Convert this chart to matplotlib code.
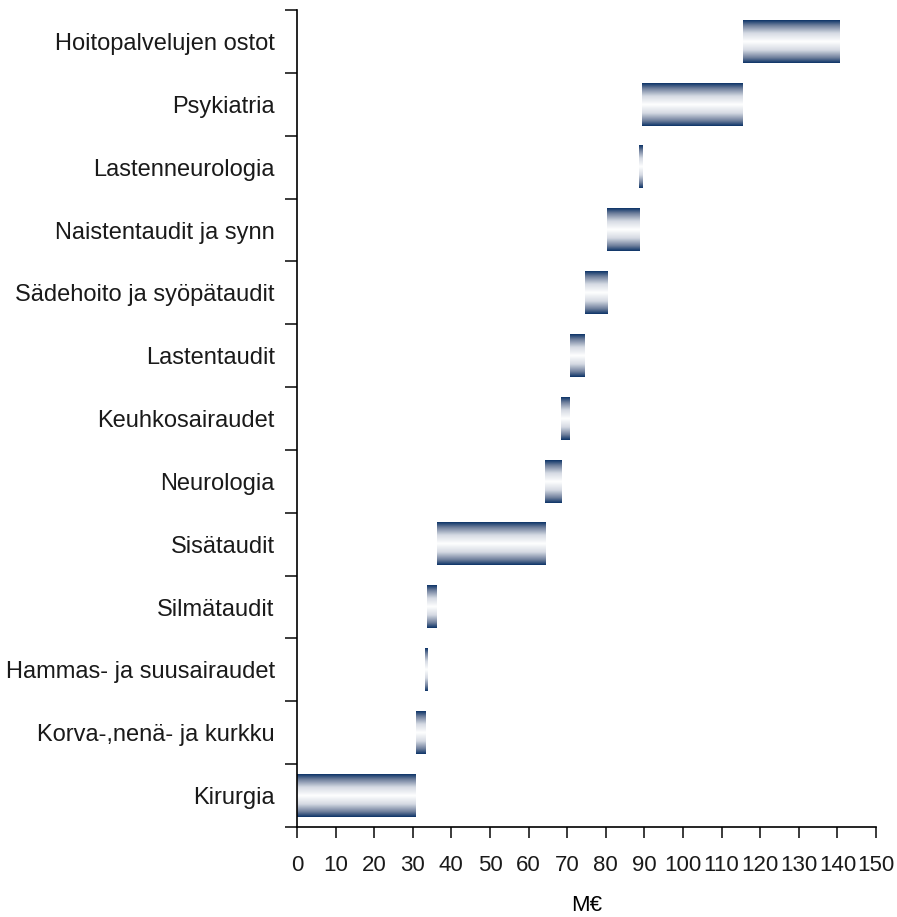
import numpy as np
import matplotlib
matplotlib.use("Agg")
import matplotlib.pyplot as plt
from matplotlib.colors import LinearSegmentedColormap

# Waterfall data (M€), bottom to top
categories = ["Kirurgia", "Korva-,nenä- ja kurkku", "Hammas- ja suusairaudet",
              "Silmätaudit", "Sisätaudit", "Neurologia", "Keuhkosairaudet",
              "Lastentaudit", "Sädehoito ja syöpätaudit", "Naistentaudit ja synn",
              "Lastenneurologia", "Psykiatria", "Hoitopalvelujen ostot"]
values = [30.8, 2.4, 0.6, 2.4, 28.0, 4.3, 2.3, 3.8, 5.7, 8.4, 0.8, 26.0, 25.0]
x_ticks = list(range(0, 151, 10))

plt.rcParams['font.family'] = ['Liberation Sans Narrow', 'Liberation Sans', 'DejaVu Sans']
plt.rcParams['text.color'] = '#1a1a1a'
plt.rcParams['xtick.color'] = '#1a1a1a'
plt.rcParams['ytick.color'] = '#1a1a1a'

fig = plt.figure(figsize=(8.97, 9.17), dpi=100)
ax = fig.add_axes([0.331, 0.0982, 0.9766 - 0.331, 0.989 - 0.0982])

navy = "#0d3468"
# dark edges fading to a broad white middle
cmap = LinearSegmentedColormap.from_list("bar", [
    (0.0, navy), (0.12, "#6f7f9c"), (0.3, "#d5dae3"), (0.5, "white"),
    (0.7, "#d5dae3"), (0.88, "#6f7f9c"), (1.0, navy)])
grad = np.linspace(0, 1, 128).reshape(-1, 1)

h = 0.675
start = 0
for i, v in enumerate(values):
    ax.imshow(grad, cmap=cmap, aspect="auto", interpolation="bilinear",
              extent=(start, start + v, i - h / 2, i + h / 2), origin="lower")
    start += v

ax.set_xlim(0, 150)
ax.set_ylim(-0.5, len(categories) - 0.5)
ax.set_xticks(x_ticks)
ax.set_yticks(np.arange(-0.5, len(categories), 1))
ax.set_yticklabels([])
ax.set_yticks(range(len(categories)), minor=True)
ax.set_yticklabels(categories, minor=True, fontsize=17)
ax.tick_params(axis="y", which="minor", length=0, pad=16)
ax.tick_params(axis="y", which="major", length=9, width=1.2)
ax.tick_params(axis="x", length=8, width=1.2, labelsize=16, pad=12)
for s in ["top", "right"]:
    ax.spines[s].set_visible(False)
for s in ["left", "bottom"]:
    ax.spines[s].set_linewidth(1.2)
ax.set_xlabel("M€", fontsize=16, labelpad=14)

fig.savefig("out.png", dpi=100)
